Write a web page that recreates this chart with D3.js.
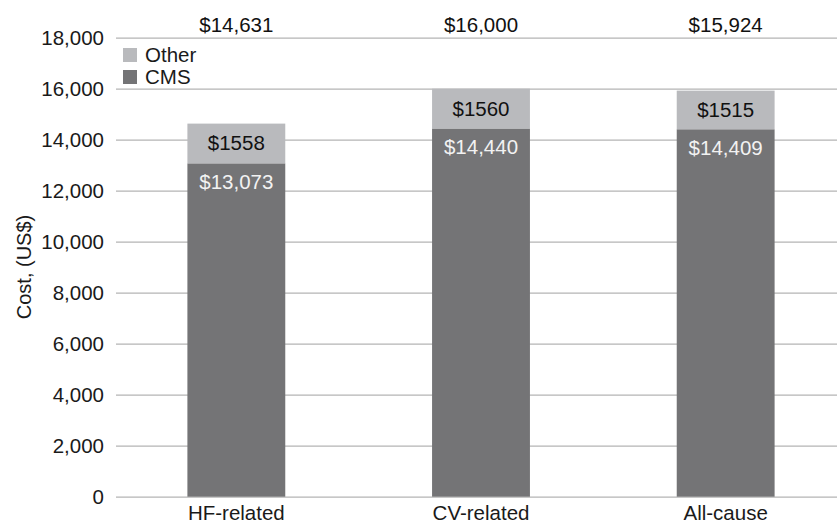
<!DOCTYPE html>
<html>
<head>
<meta charset="utf-8">
<script src="https://cdn.jsdelivr.net/npm/d3@7"></script>
<style>
  body { margin: 0; background: #fff; }
  text { font-family: "Liberation Sans", Arial, sans-serif; }
</style>
</head>
<body>
<div id="chart"></div>
<script>
var categories = ["HF-related", "CV-related", "All-cause"];
var cmsValues = [13073, 14440, 14409];
var otherValues = [1558, 1560, 1515];
var totalLabels = ["$14,631", "$16,000", "$15,924"];
var cmsLabels = ["$13,073", "$14,440", "$14,409"];
var otherLabels = ["$1558", "$1560", "$1515"];
var yTicks = [0, 2000, 4000, 6000, 8000, 10000, 12000, 14000, 16000, 18000];

var W = 837, H = 527;
var svg = d3.select("#chart").append("svg")
    .attr("width", W)
    .attr("height", H);

var y = d3.scaleLinear()
    .domain([0, 18000])
    .range([496.7, 37.7]);

var x = d3.scaleBand()
    .domain(categories)
    .range([114, 848])
    .paddingInner(0.6)
    .paddingOuter(0.3);

var colCMS = "#747476", colOther = "#b9babd";
var fs = "20.5px";

// grid lines + y labels
var yAxis = svg.append("g")
  .attr("transform", "translate(116,0)")
  .call(d3.axisLeft(y).tickValues(yTicks).tickSize(0).tickPadding(12).tickFormat(d3.format(",")));
yAxis.select(".domain").remove();
yAxis.selectAll("text").attr("font-size", fs).attr("fill", "#1a1a1a")
  .attr("font-family", "Liberation Sans, Arial, sans-serif");
yAxis.selectAll(".tick").append("line")
  .attr("x1", 0).attr("x2", W - 116)
  .attr("stroke", "#b4b4b4").attr("stroke-width", 1.3);

var data = categories.map(function(c, i) {
  return {cat: c, cms: cmsValues[i], other: otherValues[i]};
});

var bars = svg.selectAll("g.bar")
  .data(data)
  .enter().append("g").attr("class", "bar");

bars.append("rect")
  .attr("x", function(d) { return x(d.cat); })
  .attr("width", x.bandwidth())
  .attr("y", function(d) { return y(d.cms); })
  .attr("height", function(d) { return y(0) - y(d.cms); })
  .attr("fill", colCMS);

bars.append("rect")
  .attr("x", function(d) { return x(d.cat); })
  .attr("width", x.bandwidth())
  .attr("y", function(d) { return y(d.cms + d.other); })
  .attr("height", function(d) { return y(d.cms) - y(d.cms + d.other); })
  .attr("fill", colOther);

// labels in segments
bars.append("text")
  .attr("x", function(d) { return x(d.cat) + x.bandwidth() / 2; })
  .attr("y", function(d) { return (y(d.cms) + y(d.cms + d.other)) / 2 + 7; })
  .attr("text-anchor", "middle")
  .attr("font-size", fs)
  .attr("fill", "#111")
  .text(function(d, i) { return otherLabels[i]; });

bars.append("text")
  .attr("x", function(d) { return x(d.cat) + x.bandwidth() / 2; })
  .attr("y", function(d) { return y(d.cms) + 26; })
  .attr("text-anchor", "middle")
  .attr("font-size", fs)
  .attr("fill", "#f2f2f2")
  .text(function(d, i) { return cmsLabels[i]; });

// totals across the top
bars.append("text")
  .attr("x", function(d) { return x(d.cat) + x.bandwidth() / 2; })
  .attr("y", 31.5)
  .attr("text-anchor", "middle")
  .attr("font-size", fs)
  .attr("fill", "#111")
  .text(function(d, i) { return totalLabels[i]; });

// x labels
var xAxis = svg.append("g")
  .attr("transform", "translate(0," + y(0) + ")")
  .call(d3.axisBottom(x).tickSize(0).tickPadding(9));
xAxis.select(".domain").remove();
xAxis.selectAll("text").attr("font-size", fs).attr("fill", "#1a1a1a")
  .attr("font-family", "Liberation Sans, Arial, sans-serif");

// y title
svg.append("text")
  .attr("transform", "translate(31,267) rotate(-90)")
  .attr("text-anchor", "middle")
  .attr("font-size", "20px")
  .attr("fill", "#1a1a1a")
  .text("Cost, (US$)");

// legend
var legend = svg.append("g").attr("transform", "translate(123,48)");
var legItems = [["Other", colOther], ["CMS", colCMS]];
legend.selectAll("g")
  .data(legItems)
  .enter().append("g")
    .attr("transform", function(d, i) { return "translate(0," + (i * 22) + ")"; })
  .call(function(g) {
    g.append("rect").attr("width", 14).attr("height", 14)
      .attr("fill", function(d) { return d[1]; });
    g.append("text").attr("x", 22).attr("y", 13.5)
      .attr("font-size", fs).attr("fill", "#1a1a1a")
      .text(function(d) { return d[0]; });
  });
</script>
</body>
</html>
